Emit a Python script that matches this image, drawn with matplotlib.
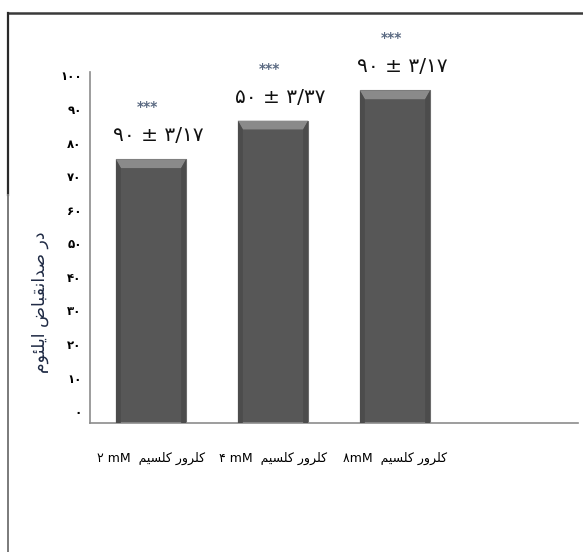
import matplotlib
matplotlib.use("Agg")
import matplotlib.pyplot as plt
from matplotlib.patches import Polygon
from matplotlib.lines import Line2D

# Persian text is written in visual order with presentation forms,
# since matplotlib does no Arabic shaping or bidi.
KALSIM = "\uFEE2\uFBFF\uFEB4\uFEE0\uFB90"      # کلسیم
KOLROR = "\uFEAD\uFEED\uFEAE\uFEE0\uFB90"      # کلرور
YLABEL = ("\uFEE1\uFEEE\uFE8C\uFEE0\uFBFE\uFE8D" + " " +
          "\uFEBD\uFE8E\uFE92\uFED8\uFEE7\uFE8D\uFEAA\uFEBB" + " " +
          "\uFEAD\uFEA9")                        # در صدانقباض ایلئوم

categories = ["\u06F2 mM  " + KALSIM + " " + KOLROR,
              "\u06F4 mM  " + KALSIM + " " + KOLROR,
              "\u06F8mM  " + KALSIM + " " + KOLROR,
              ""]
values = [75.0, 86.5, 95.5]
labels = ["\u06F9\u06F0 \u00B1 \u06F3/\u06F1\u06F7",
          "\u06F5\u06F0 \u00B1 \u06F3/\u06F3\u06F7",
          "\u06F9\u06F0 \u00B1 \u06F3/\u06F1\u06F7"]
stars = ["***", "***", "***"]
yticks = list(range(0, 101, 10))
fa_digits = "\u06F0\u06F1\u06F2\u06F3\u06F4\u06F5\u06F6\u06F7\u06F8\u06F9"
ytick_labels = ["".join(fa_digits[int(c)] for c in str(t)) for t in yticks]

YMIN, YMAX = -3.5, 101

fig = plt.figure(figsize=(5.83, 5.52), dpi=100)
ax = fig.add_axes([90 / 583, 1 - 423 / 552, 488 / 583, 351 / 552])

x = list(range(len(categories)))
bars = ax.bar(x[:len(values)], [v - YMIN for v in values], bottom=YMIN,
              width=0.575, color="#575757", edgecolor="#6e6e6e", linewidth=0.8,
              zorder=2)

# bevel: lighter band on the top of every bar, darker sides
for b in bars:
    x0, w = b.get_x(), b.get_width()
    top = b.get_y() + b.get_height()
    band = 2.6
    inset = w * 0.07
    ax.add_patch(Polygon([(x0, top), (x0 + w, top), (x0 + w - inset, top - band),
                          (x0 + inset, top - band)], closed=True,
                         facecolor="#8a8a8a", edgecolor="none", zorder=3))
    ax.add_patch(Polygon([(x0, top), (x0 + inset, top - band), (x0 + inset, YMIN),
                          (x0, YMIN)], closed=True,
                         facecolor="#4c4c4c", edgecolor="none", zorder=3))
    ax.add_patch(Polygon([(x0 + w, top), (x0 + w - inset, top - band),
                          (x0 + w - inset, YMIN), (x0 + w, YMIN)], closed=True,
                         facecolor="#4c4c4c", edgecolor="none", zorder=3))

for i, v in enumerate(values):
    ax.text(i + 0.06, v + 7.0, labels[i], ha="center", va="center",
            fontsize=14.5, color="#111111", family="DejaVu Sans")
    ax.text(i - 0.03, v + 15.5, stars[i], ha="center", va="center",
            fontsize=10, color="#5b6a82", fontweight="bold")

ax.set_xlim(-0.5, 3.5)
ax.set_ylim(YMIN, YMAX)
ax.set_yticks(yticks)
ax.set_yticklabels(ytick_labels, fontsize=8.5, fontweight="bold", family="DejaVu Sans")
ax.set_xticks(x)
ax.set_xticklabels(categories, fontsize=9, family="DejaVu Sans")
ax.tick_params(axis="y", length=0, pad=6)
ax.tick_params(axis="x", length=0, pad=21)
for s in ["top", "right"]:
    ax.spines[s].set_visible(False)
ax.spines["left"].set_color("#8c8c8c")
ax.spines["bottom"].set_color("#8c8c8c")
ax.spines["left"].set_linewidth(1.2)
ax.spines["bottom"].set_linewidth(1.2)

fig.text(40 / 583, 1 - 302 / 552, YLABEL, rotation=90, ha="center", va="center",
         fontsize=12.5, color="#1f2a44", family="DejaVu Sans")

# outer frame of the chart area
fig.add_artist(Line2D([8 / 583, 1], [1 - 13 / 552] * 2, color="#3a3a3a",
                      linewidth=1.8, transform=fig.transFigure))
fig.add_artist(Line2D([8 / 583] * 2, [1 - 13 / 552, 1 - 195 / 552], color="#2a2a2a",
                      linewidth=1.6, transform=fig.transFigure))
fig.add_artist(Line2D([8 / 583] * 2, [1 - 195 / 552, 0], color="#7a7a7a",
                      linewidth=1.4, transform=fig.transFigure))

fig.savefig("out.png", dpi=100)
